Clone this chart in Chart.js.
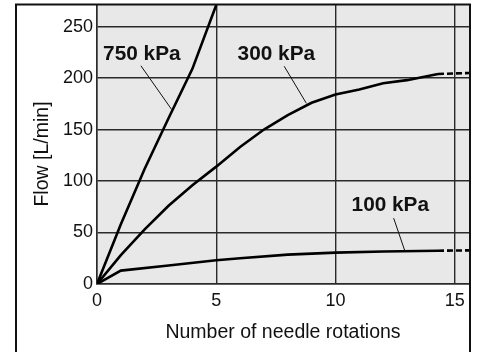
<!DOCTYPE html>
<html>
<head>
<meta charset="utf-8">
<script src="https://cdn.jsdelivr.net/npm/chart.js@4"></script>
<style>
html,body{margin:0;padding:0;background:#fff;}
#wrap{width:478px;height:352px;}
</style>
</head>
<body>
<div id="wrap"><canvas id="c" width="478" height="352"></canvas></div>
<script>
// ---- data ----
const xTicks = [0, 5, 10, 15];
const yTicks = [0, 50, 100, 150, 200, 250];

const rot750  = [0, 1, 2, 3, 4, 5];
const flow750 = [0, 58, 112, 161, 209, 271];

const rot300  = [0, 1, 2, 3, 4, 5, 6, 7, 8, 9, 10, 11, 12, 13, 14.3, 15.6];
const flow300 = [0, 28, 53, 76, 96, 114, 133, 150, 164, 176, 184, 189, 195, 198, 204, 205];

const rot100  = [0, 1, 3, 5, 6, 8, 10, 12, 14.3, 15.6];
const flow100 = [0, 13, 18, 23, 25, 28.5, 30.5, 31.5, 32.3, 32.7];

const seriesNames = ['750 kPa', '300 kPa', '100 kPa'];
const dashedFrom = 14.3;   // beyond this the curves are dashed (extrapolated)

// annotation anchors in data units: [labelX, labelY, leaderX1, leaderY1, leaderX2, leaderY2]
const labelAnchors = [
  [1.88, 223, 1.84, 212, 3.13, 169.5],
  [7.52, 223, 7.85, 211.5, 8.78, 175.5],
  [12.3, 76.7, 12.44, 64, 12.9, 32.8]
];

const FONT = "'Liberation Sans', Arial, Helvetica, sans-serif";

function pts(xs, ys){ return xs.map((x,i)=>({x:x, y:ys[i]})); }

const dashSeg = {
  borderDash: ctx => (ctx.p0.parsed.x >= dashedFrom ? [6, 3] : undefined)
};

const framePlugin = {
  id: 'frame',
  beforeDraw(chart){
    const {ctx, chartArea:a} = chart;
    ctx.save();
    ctx.fillStyle = '#fff';
    ctx.fillRect(0,0,chart.width,chart.height);
    ctx.fillStyle = '#e8e8e8';
    ctx.fillRect(a.left, a.top, a.right-a.left, a.bottom-a.top);
    ctx.restore();
  },
  afterDraw(chart){
    const {ctx, chartArea:a, scales} = chart;
    ctx.save();
    // outer frame
    ctx.strokeStyle = '#111';
    ctx.lineWidth = 2;
    ctx.strokeRect(16, 4.5, 454, 400);
    // axis titles
    ctx.fillStyle = '#111';
    ctx.font = "19.5px " + FONT;
    ctx.textAlign = 'center';
    ctx.textBaseline = 'middle';
    ctx.fillText('Number of needle rotations', (a.left + a.right)/2, 333);
    ctx.translate(43, 154);
    ctx.rotate(-Math.PI/2);
    ctx.fillText('Flow [L/min]', 0, 0);
    ctx.restore();

    // series labels with leader lines
    const xs = scales.x, ys = scales.y;
    ctx.save();
    ctx.font = "bold 20.8px " + FONT;
    ctx.fillStyle = '#111';
    ctx.textAlign = 'center';
    ctx.textBaseline = 'middle';
    labelAnchors.forEach((an, i) => {
      ctx.fillText(seriesNames[i], xs.getPixelForValue(an[0]), ys.getPixelForValue(an[1]));
      ctx.beginPath();
      ctx.strokeStyle = '#111';
      ctx.lineWidth = 1;
      ctx.moveTo(xs.getPixelForValue(an[2]), ys.getPixelForValue(an[3]));
      ctx.lineTo(xs.getPixelForValue(an[4]), ys.getPixelForValue(an[5]));
      ctx.stroke();
    });
    ctx.restore();
  }
};

const lineStyle = {
  borderColor: '#000',
  borderWidth: 2.6,
  pointRadius: 0,
  pointHoverRadius: 0,
  fill: false,
  tension: 0,
  segment: dashSeg
};

new Chart(document.getElementById('c'), {
  type: 'line',
  data: {
    datasets: [
      Object.assign({label: seriesNames[0], data: pts(rot750, flow750)}, lineStyle),
      Object.assign({label: seriesNames[1], data: pts(rot300, flow300)}, lineStyle),
      Object.assign({label: seriesNames[2], data: pts(rot100, flow100)}, lineStyle)
    ]
  },
  options: {
    responsive: false,
    animation: false,
    events: [],
    layout: { padding: { left: 0, top: 5, right: 9, bottom: 0 } },
    plugins: { legend: { display: false }, tooltip: { enabled: false }, title: { display: false } },
    scales: {
      x: {
        type: 'linear',
        min: 0,
        max: 15.6,
        afterBuildTicks: s => { s.ticks = xTicks.map(v => ({value: v})); },
        afterFit: s => { s.height = 68; s.paddingLeft = 0; s.paddingRight = 0; },
        ticks: {
          color: '#111',
          font: { family: FONT, size: 18 },
          padding: 6,
          maxRotation: 0,
          autoSkip: false,
          callback: v => String(v)
        },
        grid: { color: '#2a2a2a', lineWidth: 1.4, drawTicks: false },
        border: { color: '#2a2a2a', width: 1.5 }
      },
      y: {
        type: 'linear',
        min: 0,
        max: 271,
        afterBuildTicks: s => { s.ticks = yTicks.map(v => ({value: v})); },
        afterFit: s => { s.width = 97; s.paddingTop = 0; s.paddingBottom = 0; },
        ticks: {
          color: '#111',
          font: { family: FONT, size: 18 },
          padding: 4,
          autoSkip: false,
          callback: v => String(v)
        },
        grid: { color: '#2a2a2a', lineWidth: 1.4, drawTicks: false },
        border: { color: '#2a2a2a', width: 1.5 }
      }
    }
  },
  plugins: [framePlugin]
});
</script>
</body>
</html>
